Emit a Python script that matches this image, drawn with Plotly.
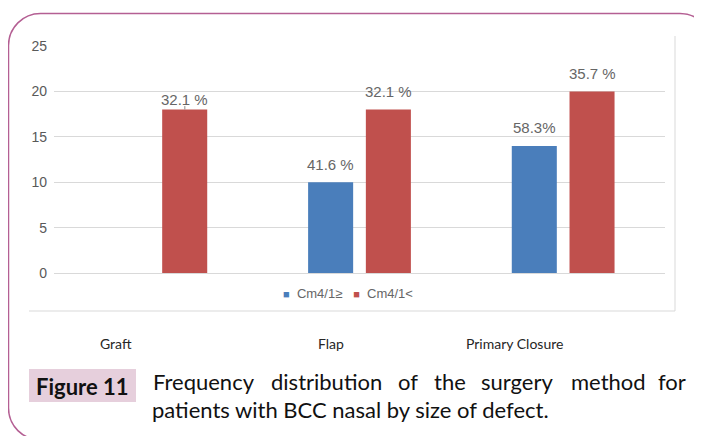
import plotly.graph_objects as go

# --- données ---
CATEGORIES = ["Graft", "Flap", "Primary Closure"]
SERIES_NAMES = ["Cm4/1≥", "Cm4/1<"]
VALUES_GE = [0, 10, 14]
VALUES_LT = [18, 18, 20]
LABELS_GE = ["", "41.6 %", "58.3%"]
LABELS_LT = ["32.1 %", "32.1 %", "35.7 %"]
Y_TICKS = [0, 5, 10, 15, 20, 25]

CAPTION_TAG = "Figure 11"
CAPTION_LINE1 = "Frequency distribution of the surgery method for"
CAPTION_LINE2 = "patients with BCC nasal by size of defect."

BLUE = "#4a7ebb"
RED = "#c0504d"
GRID = "#d9d9d9"
LABEL_GREY = "#666666"
BORDER = "#b45f93"

# la page HTML ajoute une marge de 8 px autour du graphique
OFF = 8
W, H = 702, 436
PLOT_X0, PLOT_X1 = 54, 665          # positions écran souhaitées (px)
PLOT_Y0, PLOT_Y1 = 46, 273
L, T = PLOT_X0 - OFF, PLOT_Y0 - OFF
R, B = W - (PLOT_X1 - OFF), H - (PLOT_Y1 - OFF)
PW, PH = PLOT_X1 - PLOT_X0, PLOT_Y1 - PLOT_Y0


def px_x(px: float) -> float:
    return (px - PLOT_X0) / PW


def px_y(py: float) -> float:
    return (PLOT_Y1 - py) / PH


def rounded_rect(x0, y0, x1, y1, r):
    """Chemin SVG (coordonnées paper) d'un rectangle à coins arrondis défini en pixels."""
    k = 0.5523 * r
    pts = [
        ("M", [(x0 + r, y0)]),
        ("L", [(x1 - r, y0)]),
        ("C", [(x1 - r + k, y0), (x1, y0 + r - k), (x1, y0 + r)]),
        ("L", [(x1, y1 - r)]),
        ("C", [(x1, y1 - r + k), (x1 - r + k, y1), (x1 - r, y1)]),
        ("L", [(x0 + r, y1)]),
        ("C", [(x0 + r - k, y1), (x0, y1 - r + k), (x0, y1 - r)]),
        ("L", [(x0, y0 + r)]),
        ("C", [(x0, y0 + r - k), (x0 + r - k, y0), (x0 + r, y0)]),
    ]
    out = []
    for cmd, coords in pts:
        out.append(cmd + " ".join(f"{px_x(a):.5f},{px_y(b):.5f}" for a, b in coords))
    return " ".join(out) + " Z"


fig = go.Figure()
fig.add_trace(go.Bar(x=CATEGORIES, y=VALUES_GE, name=SERIES_NAMES[0],
                     marker=dict(color=BLUE, line=dict(width=0)), showlegend=False))
fig.add_trace(go.Bar(x=CATEGORIES, y=VALUES_LT, name=SERIES_NAMES[1],
                     marker=dict(color=RED, line=dict(width=0)), showlegend=False))

annotations = []
label_font = dict(family="Liberation Sans, Arial", size=15, color=LABEL_GREY)

# étiquettes au-dessus des barres
for cat, val, lab in zip(CATEGORIES, VALUES_GE, LABELS_GE):
    if lab:
        annotations.append(dict(x=cat, y=val, xref="x", yref="y", text=lab, showarrow=False,
                                xshift=-29, yshift=18, font=label_font))
for i, (cat, val, lab) in enumerate(zip(CATEGORIES, VALUES_LT, LABELS_LT)):
    shift = 10 if i == 0 else 18
    annotations.append(dict(x=cat, y=val, xref="x", yref="y", text=lab, showarrow=False,
                            xshift=29, yshift=shift, font=label_font))
# petit trait de rappel sous l'étiquette "Graft"
annotations.append(dict(x=CATEGORIES[0], y=VALUES_LT[0], xref="x", yref="y", text="",
                        showarrow=True, arrowhead=0, arrowwidth=1, arrowcolor="#8c8c8c",
                        ax=0, ay=-5, xshift=29))

# légende dessinée comme dans l'original (petits carrés)
legend_text = (f'<span style="color:{BLUE};font-size:11px">■</span>&nbsp; {SERIES_NAMES[0]}'
               f'&nbsp;&nbsp;&nbsp;<span style="color:{RED};font-size:11px">■</span>&nbsp; {SERIES_NAMES[1]}')
annotations.append(dict(x=px_x(348), y=px_y(293), xref="paper", yref="paper",
                        text=legend_text, showarrow=False, xanchor="center", yanchor="middle",
                        font=dict(family="Liberation Sans, Arial", size=13, color=LABEL_GREY)))

# noms de catégories (décalés vers la gauche comme dans la source)
cat_shift = [-40, -29, -49]
for cat, sh in zip(CATEGORIES, cat_shift):
    annotations.append(dict(x=cat, y=px_y(343), xref="x", yref="paper", text=cat,
                            showarrow=False, xshift=sh, yanchor="middle",
                            font=dict(family="Lato, Open Sans", size=14, color="#262626")))

# légende de figure
cap_font = dict(family="Lato", size=22, color="#111111")
annotations.append(dict(x=px_x(82.5), y=px_y(386), xref="paper", yref="paper",
                        text=f"<b>{CAPTION_TAG}</b>", showarrow=False,
                        xanchor="center", yanchor="middle", font=cap_font))
word_x = [151, 269, 396, 432, 479, 569, 656]
for word, wx in zip(CAPTION_LINE1.split(), word_x):
    annotations.append(dict(x=px_x(wx), y=px_y(381), xref="paper", yref="paper", text=word,
                            showarrow=False, xanchor="left", yanchor="middle", font=cap_font))
annotations.append(dict(x=px_x(150), y=px_y(409), xref="paper", yref="paper", text=CAPTION_LINE2,
                        showarrow=False, xanchor="left", yanchor="middle", font=cap_font))

shapes = [
    # cadre extérieur arrondi (bords droit et bas hors champ)
    dict(type="path", xref="paper", yref="paper", path=rounded_rect(8.5, 13.5, 712, 440, 32),
         line=dict(color=BORDER, width=1.5), fillcolor="rgba(0,0,0,0)", layer="above"),
    # bord droit et bas du cadre du graphique
    dict(type="line", xref="paper", yref="paper", x0=px_x(675), x1=px_x(675),
         y0=px_y(36), y1=px_y(311), line=dict(color=GRID, width=1)),
    dict(type="line", xref="paper", yref="paper", x0=px_x(29), x1=px_x(675),
         y0=px_y(311), y1=px_y(311), line=dict(color=GRID, width=1)),
    # fond rose de "Figure 11"
    dict(type="rect", xref="paper", yref="paper", x0=px_x(29), x1=px_x(136),
         y0=px_y(402), y1=px_y(369), fillcolor="#e6cfdc", line=dict(width=0), layer="below"),
]

fig.update_layout(
    width=W,
    height=H,
    margin=dict(l=L, r=R, t=T, b=B),
    paper_bgcolor="white",
    plot_bgcolor="white",
    barmode="group",
    bargap=0.433,
    bargroupgap=0.22,
    showlegend=False,
    xaxis=dict(type="category", range=[-0.5, 2.5], showticklabels=False, showgrid=False,
               zeroline=False, showline=False, ticks=""),
    yaxis=dict(range=[0, 25], tickvals=Y_TICKS, showgrid=True, gridcolor=GRID, gridwidth=1,
               zeroline=True, zerolinecolor=GRID, zerolinewidth=1, showline=False, ticks="",
               ticklabelstandoff=6,
               tickfont=dict(family="Liberation Sans Narrow, Liberation Sans, Arial",
                             size=14, color="#595959")),
    annotations=annotations,
    shapes=shapes,
)

fig.write_html("out.html")
